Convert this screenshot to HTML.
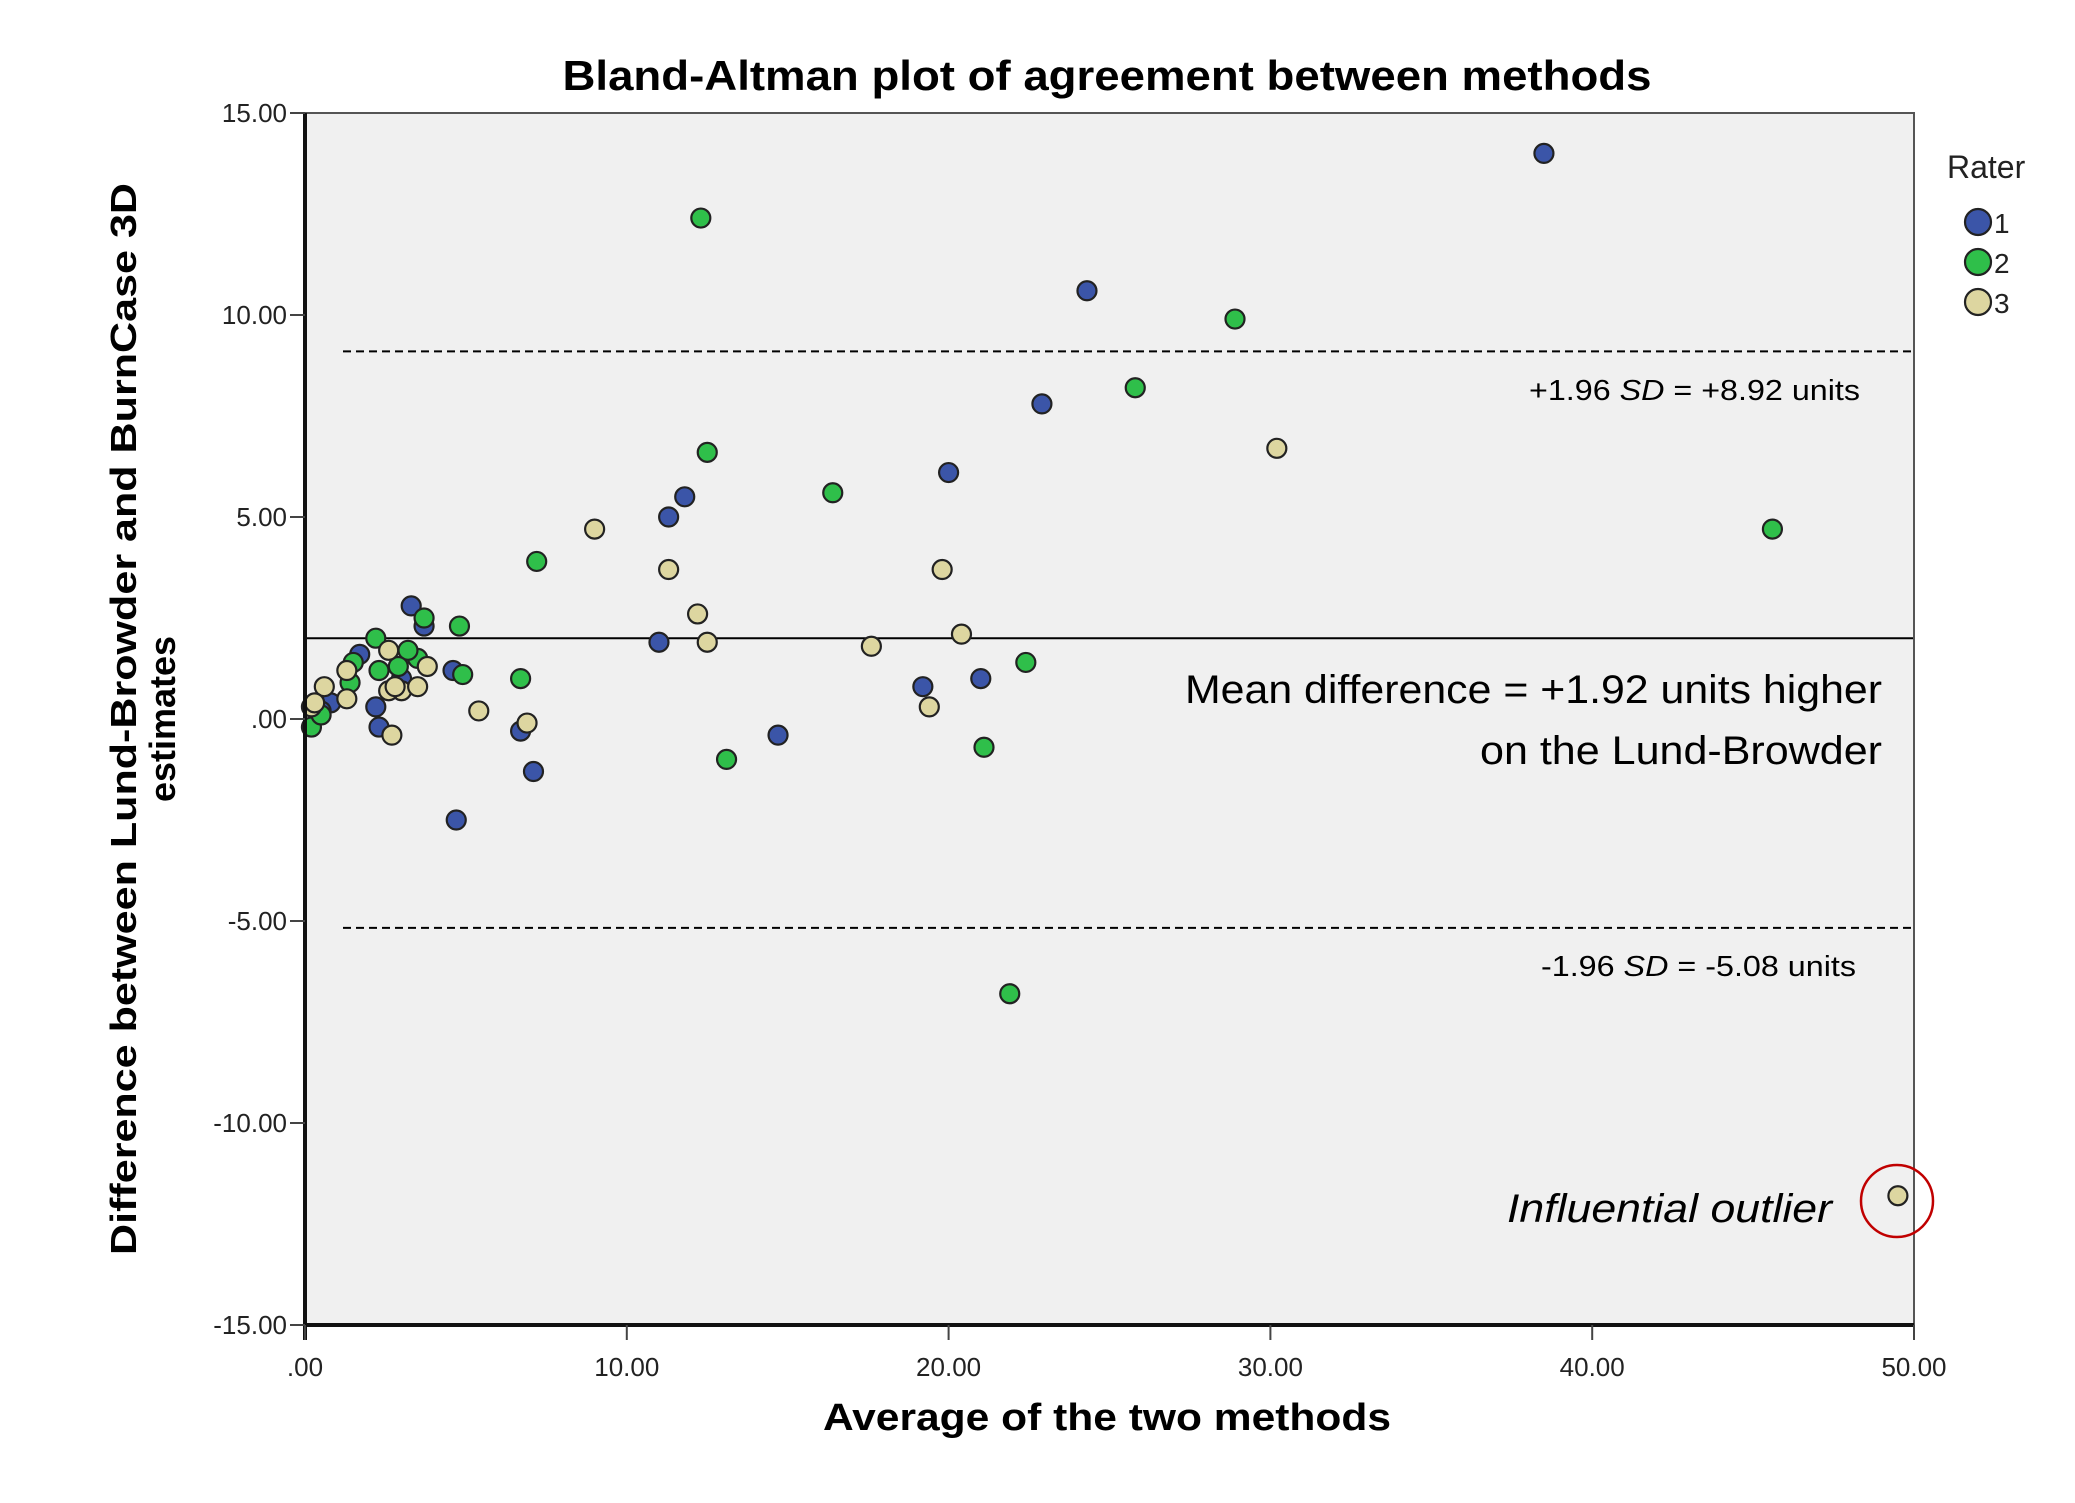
<!DOCTYPE html>
<html><head><meta charset="utf-8"><style>body{margin:0;background:#fff}svg{display:block}</style></head>
<body>
<svg id="chart" width="2075" height="1503" viewBox="0 0 2075 1503" xmlns="http://www.w3.org/2000/svg" font-family="Liberation Sans, sans-serif">
<rect x="305" y="113" width="1609" height="1212" fill="#f0f0f0"/>
<g id="marks"></g>
<text x="1107" y="90" text-anchor="middle" font-size="42" font-weight="bold" textLength="1089" lengthAdjust="spacingAndGlyphs">Bland-Altman plot of agreement between methods</text>
<text transform="translate(136,719) rotate(-90)" text-anchor="middle" font-size="36" font-weight="bold" textLength="1072" lengthAdjust="spacingAndGlyphs">Difference between Lund-Browder and BurnCase 3D</text>
<text transform="translate(175,719) rotate(-90)" text-anchor="middle" font-size="36" font-weight="bold">estimates</text>
<text x="1107" y="1430" text-anchor="middle" font-size="38" font-weight="bold" textLength="568" lengthAdjust="spacingAndGlyphs">Average of the two methods</text>
<text x="1947" y="178" font-size="32" fill="#222">Rater</text>
<g font-family="Liberation Sans Narrow, Liberation Sans, sans-serif">
<text x="1860" y="400" text-anchor="end" font-size="29" textLength="331" lengthAdjust="spacingAndGlyphs">+1.96 <tspan font-style="italic">SD</tspan> = +8.92 units</text>
<text x="1882" y="703" text-anchor="end" font-size="40" textLength="697" lengthAdjust="spacingAndGlyphs">Mean difference = +1.92 units higher</text>
<text x="1882" y="764" text-anchor="end" font-size="40" textLength="402" lengthAdjust="spacingAndGlyphs">on the Lund-Browder</text>
<text x="1856" y="976" text-anchor="end" font-size="29" textLength="315" lengthAdjust="spacingAndGlyphs">-1.96 <tspan font-style="italic">SD</tspan> = -5.08 units</text>
<text x="1832" y="1222" text-anchor="end" font-size="40" font-style="italic" textLength="325" lengthAdjust="spacingAndGlyphs">Influential outlier</text>
</g>
<circle cx="1897" cy="1201" r="36" fill="none" stroke="#c00000" stroke-width="2.5"/>
</svg>
<script>
const xTicks=[0,10,20,30,40,50];
const xTickLabels=['.00','10.00','20.00','30.00','40.00','50.00'];
const yTicks=[15,10,5,0,-5,-10,-15];
const yTickLabels=['15.00','10.00','5.00','.00','-5.00','-10.00','-15.00'];
const meanDiff=2.0;
const upperLoA=9.1;
const lowerLoA=-5.17;
const rater1X=[38.5,24.3,22.9,20.0,11.8,11.3,3.3,3.7,11.0,19.2,21.0,14.7,7.1,6.7,4.7,2.2,2.3,4.6,1.7,0.8,0.5,3.0];
const rater1Y=[14.0,10.6,7.8,6.1,5.5,5.0,2.8,2.3,1.9,0.8,1.0,-0.4,-1.3,-0.3,-2.5,0.3,-0.2,1.2,1.6,0.4,0.2,1.0];
const rater2X=[12.3,28.9,25.8,12.5,16.4,45.6,7.2,3.7,4.8,2.2,22.4,4.9,6.7,21.1,13.1,21.9,0.2,0.5,1.5,2.3,3.5,3.2,2.9,1.4];
const rater2Y=[12.4,9.9,8.2,6.6,5.6,4.7,3.9,2.5,2.3,2.0,1.4,1.1,1.0,-0.7,-1.0,-6.8,-0.2,0.1,1.4,1.2,1.5,1.7,1.3,0.9];
const rater3X=[30.2,9.0,11.3,19.8,12.2,12.5,17.6,20.4,19.4,5.4,6.9,2.7,49.5,0.6,0.2,1.3,1.3,2.6,3.0,3.5,3.8,2.6,0.3,2.8];
const rater3Y=[6.7,4.7,3.7,3.7,2.6,1.9,1.8,2.1,0.3,0.2,-0.1,-0.4,-11.8,0.8,0.3,1.2,0.5,1.7,0.7,0.8,1.3,0.7,0.4,0.8];
const legendLabels=['1','2','3'];
const colors=['#3b55a8','#2fbf4a','#ddd6a0'];
const NS='http://www.w3.org/2000/svg';
const L=305,R=1914,T=113,B=1325;
function sx(v){return L+(v-0)/(50-0)*(R-L);}
function sy(v){return B-(v+15)/30*(B-T);}
const g=document.getElementById('marks');
const svg=document.getElementById('chart');
function mk(t,a,p){const e=document.createElementNS(NS,t);for(const k in a)e.setAttribute(k,a[k]);(p||g).appendChild(e);return e;}
let e=mk('line',{x1:L,x2:R,y1:sy(meanDiff),y2:sy(meanDiff),stroke:'#000','stroke-width':2});


e=mk('line',{x1:343,x2:R,y1:sy(upperLoA),y2:sy(upperLoA),stroke:'#000','stroke-width':2,'stroke-dasharray':'8,5'});


e=mk('line',{x1:343,x2:R,y1:sy(lowerLoA),y2:sy(lowerLoA),stroke:'#000','stroke-width':2,'stroke-dasharray':'8,5'});


const series=[[rater1X,rater1Y],[rater2X,rater2Y],[rater3X,rater3Y]];
series.forEach((s,si)=>{s[0].forEach((x,i)=>{
 const c=mk('circle',{cx:sx(x),cy:sy(s[1][i]),r:9.5,fill:colors[si],stroke:'#222','stroke-width':2.2});
 
 
});});
e=mk('rect',{x:L,y:T,width:R-L,height:B-T,fill:'none',stroke:'#555','stroke-width':2});


e=mk('line',{x1:L,x2:L,y1:T,y2:B+15,stroke:'#111','stroke-width':4});


e=mk('line',{x1:L,x2:R,y1:B,y2:B,stroke:'#111','stroke-width':4});


yTicks.forEach((v,i)=>{
 const t=mk('line',{x1:L-15,x2:L,y1:sy(v),y2:sy(v),stroke:'#444','stroke-width':2});
 
 
 const tx=mk('text',{x:L-18,y:sy(v)+9,'text-anchor':'end','font-size':26,fill:'#222'});
 tx.textContent=yTickLabels[i];
 
 
});
xTicks.forEach((v,i)=>{
 const t=mk('line',{x1:sx(v),x2:sx(v),y1:B,y2:B+15,stroke:'#444','stroke-width':2});
 
 
 const tx=mk('text',{x:sx(v),y:1376,'text-anchor':'middle','font-size':26,fill:'#222'});
 tx.textContent=xTickLabels[i];
 
 
});
legendLabels.forEach((lb,i)=>{
 const c=mk('circle',{cx:1978,cy:222+i*40,r:13,fill:colors[i],stroke:'#222','stroke-width':2.2},svg);
 
 
 const t=mk('text',{x:1994,y:233+i*40,'font-size':28,fill:'#222'},svg);
 t.textContent=lb;
 
 
});
</script>
</body></html>
